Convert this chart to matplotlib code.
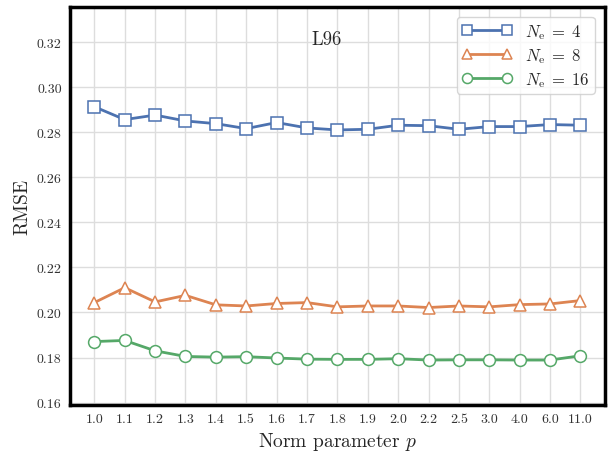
import matplotlib
matplotlib.use('agg')
import matplotlib.pyplot as plt
import seaborn as sns

# Norm parameter values (categorical x axis)
p_labels = ['1.0', '1.1', '1.2', '1.3', '1.4', '1.5', '1.6', '1.7', '1.8',
            '1.9', '2.0', '2.2', '2.5', '3.0', '4.0', '6.0', '11.0']

rmse_ne4 = [0.2913, 0.2856, 0.2876, 0.2850, 0.2838, 0.2816, 0.2843, 0.2819, 0.2810,
            0.2813, 0.2831, 0.2829, 0.2813, 0.2825, 0.2825, 0.2834, 0.2831]
rmse_ne8 = [0.2044, 0.2110, 0.2047, 0.2076, 0.2034, 0.2029, 0.2040, 0.2044, 0.2025,
            0.2029, 0.2029, 0.2022, 0.2029, 0.2025, 0.2035, 0.2038, 0.2053]
rmse_ne16 = [0.1871, 0.1876, 0.1830, 0.1805, 0.1802, 0.1804, 0.1798, 0.1793, 0.1792,
             0.1792, 0.1795, 0.1789, 0.1790, 0.1790, 0.1789, 0.1789, 0.1808]

sns.set_style('whitegrid')
plt.rcParams['font.family'] = 'serif'
plt.rcParams['font.serif'] = ['cmr10']
plt.rcParams['mathtext.fontset'] = 'cm'
plt.rcParams['axes.formatter.use_mathtext'] = True

colors = sns.color_palette('deep')

fig = plt.figure(figsize=(6.09, 4.52), dpi=100)
ax = fig.add_axes([0.115, 0.102, 0.878, 0.880])

x = list(range(len(p_labels)))
series = [
    (rmse_ne4, 's', r'$N_\mathrm{e}\;=\;4$', colors[0]),
    (rmse_ne8, '^', r'$N_\mathrm{e}\;=\;8$', colors[1]),
    (rmse_ne16, 'o', r'$N_\mathrm{e}\;=\;16$', colors[2]),
]
for vals, marker, label, c in series:
    ax.plot(x, vals, marker=marker, color=c, label=label, lw=2,
             markersize=8.5, markerfacecolor='white', markeredgecolor=c,
             markeredgewidth=1.1)

ax.set_xticks(x)
ax.set_xticklabels(p_labels)
ax.set_ylim(0.159, 0.3355)
ax.set_yticks([0.16, 0.18, 0.20, 0.22, 0.24, 0.26, 0.28, 0.30, 0.32])
ax.set_yticklabels(['%.2f' % v for v in ax.get_yticks()])
ax.tick_params(labelsize=10, colors='#333333', length=0, pad=6)

ax.set_xlabel(r'Norm parameter $p$', fontsize=14, labelpad=3)
ax.set_ylabel('RMSE', fontsize=14)
ax.text(0.480, 0.92, 'L96', transform=ax.transAxes, ha='center', va='center', fontsize=13.5)

for s in ax.spines.values():
    s.set_color('black')
    s.set_linewidth(2.5)
ax.grid(color='#dddddd', lw=1)

ax.legend(loc='upper right', fontsize=12, numpoints=2, frameon=True,
          borderaxespad=0.6, handlelength=3, borderpad=0.3, labelspacing=0.3,
          markerscale=0.85)

fig.savefig('out.png', dpi=100)
